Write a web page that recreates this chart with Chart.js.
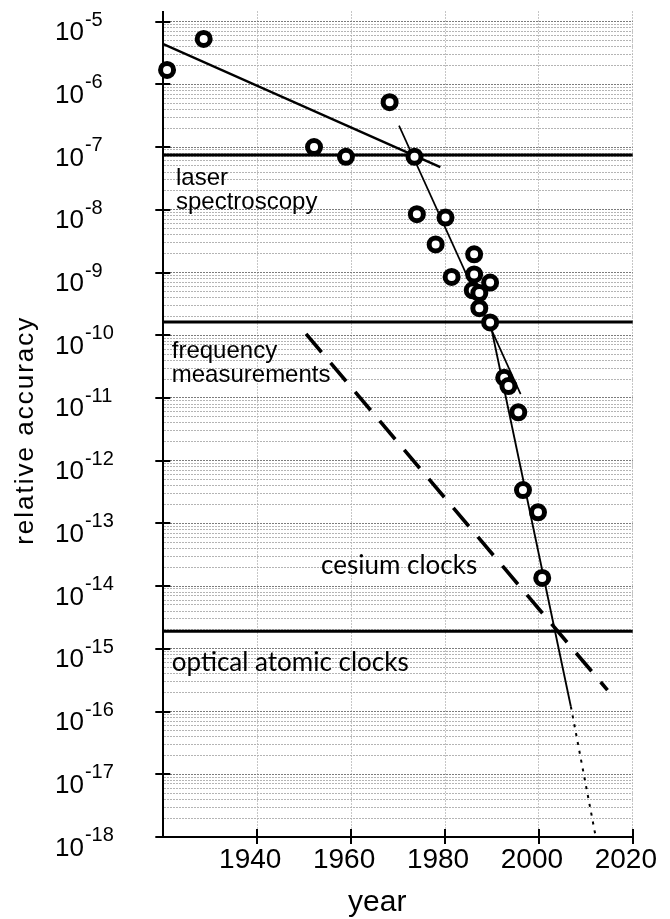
<!DOCTYPE html>
<html lang="en">
<head>
<meta charset="UTF-8">
<title>Relative accuracy of frequency standards</title>
<script src="https://cdn.jsdelivr.net/npm/chart.js"></script>
<style>
    html, body { margin: 0; padding: 0; background: #fff; }
    .wrap { width: 670px; height: 919px; }
</style>
</head>
<body>
<div class="wrap"><canvas id="accuracyChart" width="670" height="919"></canvas></div>
<script>
// measured accuracies (circles)
const pointYears = [1920.8, 1928.6, 1952.1, 1958.9, 1968.2, 1973.5, 1974.0, 1978.0, 1980.1, 1981.4,
    1986.2, 1986.2, 1985.9, 1987.3, 1989.6, 1987.3, 1989.6, 1992.6, 1993.5, 1995.6,
    1996.6, 1999.8, 2000.7];
const pointAccuracy = [1.7e-6, 5.3e-6, 1.0e-7, 7.0e-8, 5.2e-7, 7.0e-8, 8.5e-9, 2.8e-9, 7.5e-9, 8.5e-10,
    1.95e-9, 9.3e-10, 5.2e-10, 4.7e-10, 6.9e-10, 2.7e-10, 1.6e-10, 2.1e-11, 1.55e-11, 5.9e-12,
    3.4e-13, 1.5e-13, 1.35e-14];

// trend lines, start and end point each
const earlyYears = [1920, 1979];
const earlyAccuracy = [4.4e-6, 4.8e-8];
const laserYears = [1970.2, 1996.1];
const laserAccuracy = [2.2e-7, 1.15e-11];
const clockYears = [1989.6, 2006.8];
const clockAccuracy = [1.6e-10, 1.2e-16];
const forecastYears = [2006.8, 2012.1];
const forecastAccuracy = [1.2e-16, 1e-18];
const cesiumYears = [1950.4, 2014.6];
const cesiumAccuracy = [1.05e-10, 2.2e-16];

// horizontal boundaries between the eras
const boundaryAccuracy = [7.45e-8, 1.62e-10, 1.9e-15];

// ticks
const xTickYears = [1940, 1960, 1980, 2000, 2020];
const yTickExponents = [-5, -6, -7, -8, -9, -10, -11, -12, -13, -14, -15, -16, -17, -18];

// era labels: text, year, log10 of accuracy at baseline
const eraLabels = [
    ['laser', 1922.7, -7.60, 'helv'],
    ['spectroscopy', 1922.7, -7.98, 'helv'],
    ['frequency', 1921.8, -10.36, 'helv'],
    ['measurements', 1921.8, -10.74, 'helv'],
    ['cesium clocks', 1953.6, -13.80, 'myriad'],
    ['optical atomic clocks', 1921.8, -15.35, 'myriad']
];

const HELV = '"Liberation Sans", Arial, Helvetica, sans-serif';
const MYRIAD = 'Lato, "Open Sans", sans-serif';

function pairs(xs, ys) {
    return xs.map((x, i) => ({ x: x, y: ys[i] }));
}

function lineSet(data, width, dash) {
    return {
        data: data,
        showLine: true,
        borderColor: '#000',
        borderWidth: width,
        borderDash: dash || [],
        pointRadius: 0,
        pointHoverRadius: 0,
        fill: false,
        order: 2
    };
}

const datasets = [
    {
        data: pairs(pointYears, pointAccuracy),
        pointRadius: 6.5,
        pointHoverRadius: 6.5,
        borderWidth: 5,
        borderColor: '#000',
        backgroundColor: '#fff',
        clip: false,
        order: 0
    },
    lineSet(pairs(earlyYears, earlyAccuracy), 2.4),
    lineSet(pairs(laserYears, laserAccuracy), 1.7),
    lineSet(pairs(clockYears, clockAccuracy), 1.9),
    lineSet(pairs(forecastYears, forecastAccuracy), 2, [3, 6]),
    lineSet(pairs(cesiumYears, cesiumAccuracy), 3.6, [24, 14])
];
boundaryAccuracy.forEach(v => {
    datasets.push(lineSet(pairs([1920, 2020], [v, v]), 3));
});

// y labels with superscript, axis titles, cross ticks, era labels
const decorations = {
    id: 'decorations',
    afterDraw(chart) {
        const { ctx, chartArea, scales: { x, y } } = chart;
        ctx.save();
        ctx.strokeStyle = '#000';
        ctx.lineWidth = 2;

        yTickExponents.forEach(e => {
            const py = Math.round(y.getPixelForValue(Math.pow(10, e)));
            ctx.beginPath();
            ctx.moveTo(chartArea.left - 8, py);
            ctx.lineTo(chartArea.left + 7, py);
            ctx.stroke();
        });
        xTickYears.forEach(v => {
            const px = Math.round(x.getPixelForValue(v));
            ctx.beginPath();
            ctx.moveTo(px, chartArea.bottom - 8);
            ctx.lineTo(px, chartArea.bottom + 7);
            ctx.stroke();
        });
        ctx.beginPath();
        ctx.moveTo(chartArea.left - 7, chartArea.bottom);
        ctx.lineTo(chartArea.left, chartArea.bottom);
        ctx.stroke();

        ctx.fillStyle = '#000';
        ctx.textAlign = 'left';
        ctx.textBaseline = 'alphabetic';
        yTickExponents.forEach(e => {
            const py = y.getPixelForValue(Math.pow(10, e));
            ctx.font = '26px ' + HELV;
            ctx.fillText('10', 55, py + 18.5);
            const w = ctx.measureText('10').width;
            ctx.font = '20px ' + HELV;
            ctx.fillText('-' + Math.abs(e), 55 + w + 1, py + 4);
        });

        eraLabels.forEach(([text, year, lg, face]) => {
            ctx.font = face === 'helv' ? '24px ' + HELV : '26px ' + MYRIAD;
            ctx.fillText(text, x.getPixelForValue(year), y.getPixelForValue(Math.pow(10, lg)));
        });

        // axis titles
        ctx.font = '30px ' + HELV;
        ctx.textAlign = 'center';
        ctx.fillText('year', chartArea.left + 214, 911);

        ctx.translate(26, (chartArea.top + chartArea.bottom) / 2 + 6);
        ctx.rotate(-Math.PI / 2);
        ctx.font = '26px ' + HELV;
        ctx.letterSpacing = '2px';
        ctx.textBaseline = 'middle';
        ctx.fillText('relative accuracy', 0, 0);
        ctx.restore();
    }
};

new Chart(document.getElementById('accuracyChart'), {
    type: 'scatter',
    data: { datasets: datasets },
    options: {
        responsive: false,
        animation: false,
        devicePixelRatio: 1,
        layout: { padding: { top: 7, right: 33, left: 0, bottom: 0 } },
        plugins: { legend: { display: false }, tooltip: { enabled: false } },
        scales: {
            x: {
                type: 'linear',
                min: 1920,
                max: 2020,
                afterBuildTicks: scale => {
                    scale.ticks = xTickYears.map(v => ({ value: v }));
                },
                afterFit: scale => { scale.height = 82; },
                ticks: {
                    autoSkip: false,
                    maxRotation: 0,
                    color: '#000',
                    padding: 6,
                    labelOffset: -7,
                    font: { family: HELV, size: 28 },
                    callback: v => String(v)
                },
                grid: { color: '#8c8c8c', lineWidth: 1, drawTicks: false },
                border: { display: true, color: '#000', width: 2, dash: [1, 2] }
            },
            y: {
                type: 'logarithmic',
                min: 1e-18,
                max: 1.45e-5,
                afterBuildTicks: scale => {
                    const t = [];
                    for (let e = -18; e <= -6; e++) {
                        for (let m = 1; m <= 9; m++) t.push({ value: m * Math.pow(10, e) });
                    }
                    t.push({ value: 1e-5 });
                    scale.ticks = t;
                },
                afterFit: scale => { scale.width = 163.3; },
                ticks: { display: false },
                grid: {
                    drawTicks: false,
                    lineWidth: 1,
                    color: c => {
                        const v = c.tick ? c.tick.value : 0;
                        const lg = Math.log10(v);
                        return Math.abs(lg - Math.round(lg)) < 1e-6 ? '#7c7c7c' : '#b4b4b4';
                    }
                },
                border: { display: true, color: '#000', width: 2, dash: [2, 1] }
            }
        }
    },
    plugins: [decorations]
});
</script>
</body>
</html>
